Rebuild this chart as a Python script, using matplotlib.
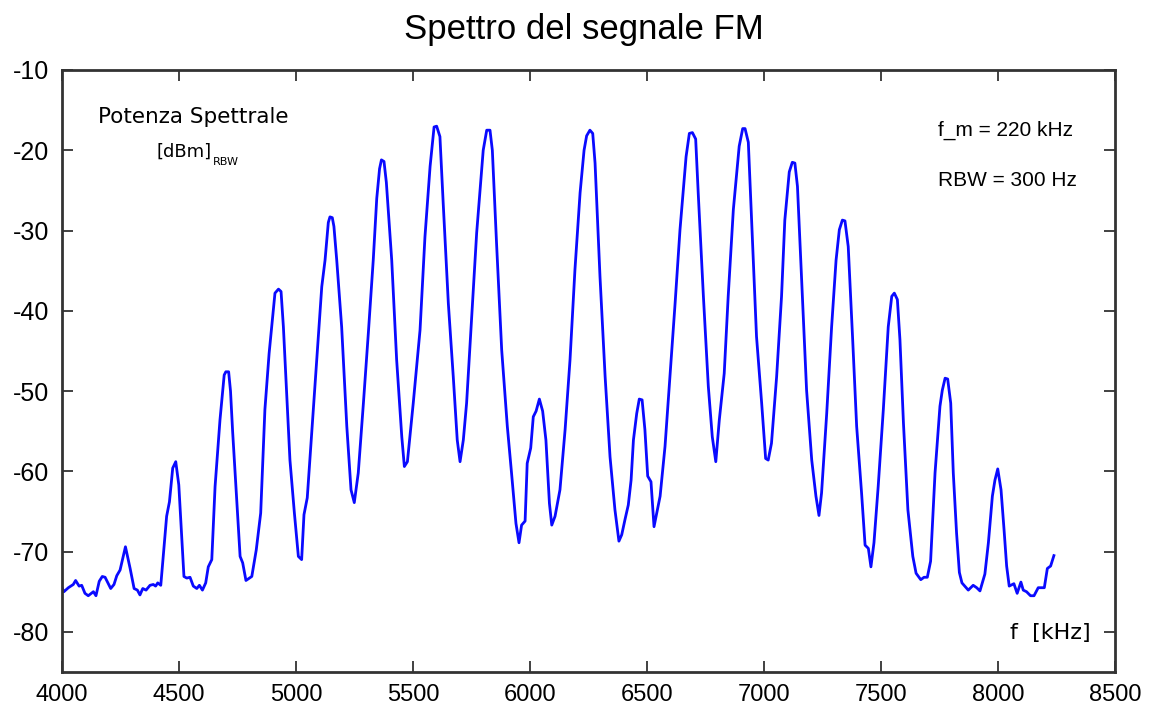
import numpy as np
import matplotlib
matplotlib.use("Agg")
import matplotlib.pyplot as plt

# spectrum trace (kHz, dBm)
freq_khz = [
    4000, 4008, 4027, 4048, 4058, 4073, 4084, 4098, 4112, 4134, 4145, 4159, 4172, 4184,
    4208, 4222, 4234, 4248, 4271, 4291, 4308, 4322, 4333, 4345, 4359, 4376, 4390, 4400,
    4409, 4422, 4447, 4459, 4473, 4486, 4499, 4521, 4533, 4547, 4561, 4576, 4587, 4600,
    4614, 4625, 4640, 4654, 4675, 4693, 4700, 4712, 4720, 4729, 4761, 4772, 4786, 4811,
    4830, 4849, 4867, 4885, 4899, 4910, 4925, 4936, 4946, 4960, 4974, 4993, 5010, 5024,
    5034, 5048, 5067, 5088, 5110, 5124, 5138, 5145, 5155, 5162, 5174, 5195, 5217, 5235,
    5249, 5266, 5288, 5309, 5330, 5345, 5357, 5365, 5376, 5386, 5409, 5430, 5452, 5463,
    5476, 5501, 5530, 5551, 5573, 5590, 5601, 5615, 5629, 5651, 5672, 5689, 5701, 5715,
    5729, 5751, 5772, 5800, 5815, 5829, 5839, 5857, 5879, 5903, 5921, 5940, 5953, 5964,
    5979, 5988, 6003, 6014, 6026, 6040, 6054, 6068, 6083, 6093, 6107, 6128, 6150, 6171,
    6192, 6214, 6231, 6242, 6256, 6268, 6278, 6299, 6321, 6342, 6363, 6380, 6392, 6406,
    6420, 6432, 6442, 6456, 6467, 6479, 6491, 6503, 6517, 6530, 6556, 6577, 6598, 6620,
    6641, 6667, 6681, 6694, 6708, 6719, 6741, 6762, 6779, 6794, 6809, 6830, 6847, 6869,
    6894, 6909, 6919, 6933, 6951, 6968, 6990, 7007, 7018, 7032, 7054, 7075, 7089, 7108,
    7121, 7132, 7143, 7161, 7182, 7204, 7222, 7235, 7246, 7268, 7289, 7308, 7322, 7335,
    7346, 7360, 7379, 7396, 7417, 7432, 7446, 7457, 7470, 7488, 7510, 7531, 7546, 7557,
    7570, 7581, 7596, 7615, 7636, 7650, 7670, 7684, 7698, 7712, 7731, 7752, 7762, 7774,
    7785, 7798, 7809, 7823, 7835, 7846, 7873, 7894, 7909, 7923, 7944, 7959, 7976, 7987,
    7999, 8013, 8026, 8037, 8048, 8068, 8082, 8098, 8108, 8122, 8139, 8154, 8172, 8198,
    8211, 8225, 8239,
]
level_dbm = [
    -74.5, -75.0, -74.5, -74.1, -73.6, -74.3, -74.2, -75.2, -75.5, -75.0, -75.5, -73.7, -73.1, -73.2,
    -74.6, -74.1, -73.0, -72.3, -69.4, -72.1, -74.6, -74.8, -75.4, -74.6, -74.8, -74.2, -74.1, -74.3,
    -73.9, -74.2, -65.6, -63.8, -59.6, -58.8, -61.7, -73.1, -73.3, -73.2, -74.3, -74.6, -74.2, -74.8,
    -73.9, -71.9, -71.0, -61.9, -53.6, -48.0, -47.6, -47.6, -50.0, -55.0, -70.6, -71.4, -73.6, -73.1,
    -69.8, -65.2, -52.3, -45.3, -41.1, -37.8, -37.3, -37.6, -42.0, -50.3, -58.6, -65.2, -70.6, -71.0,
    -65.4, -63.3, -55.2, -46.1, -37.0, -33.7, -29.0, -28.3, -28.4, -29.5, -33.7, -42.0, -54.4, -62.3,
    -63.9, -60.2, -51.5, -42.8, -33.7, -26.0, -22.3, -21.2, -21.4, -24.0, -33.7, -46.1, -55.7, -59.4,
    -58.8, -51.5, -42.4, -30.8, -22.0, -17.1, -17.0, -18.3, -26.6, -39.1, -48.2, -56.1, -58.8, -56.1,
    -51.5, -40.7, -30.3, -20.0, -17.5, -17.5, -20.0, -31.6, -44.9, -54.4, -60.2, -66.5, -68.9, -66.7,
    -66.2, -59.0, -57.1, -53.2, -52.5, -51.0, -52.5, -56.1, -64.0, -66.7, -65.6, -62.3, -54.8, -46.1,
    -34.9, -25.3, -20.0, -18.2, -17.5, -17.9, -21.6, -35.7, -48.2, -58.2, -64.8, -68.7, -67.9, -66.0,
    -64.2, -61.1, -56.1, -52.8, -51.0, -51.1, -54.8, -60.6, -61.3, -66.9, -63.1, -56.9, -48.2, -39.1,
    -29.9, -20.8, -17.9, -17.8, -18.6, -25.4, -38.2, -49.4, -55.7, -58.8, -53.6, -47.8, -38.2, -27.4,
    -19.5, -17.3, -17.3, -19.0, -31.6, -43.2, -51.5, -58.4, -58.6, -56.5, -48.2, -38.2, -28.7, -22.7,
    -21.5, -21.6, -24.5, -36.2, -49.9, -58.6, -63.1, -65.5, -62.7, -52.8, -42.0, -33.7, -29.9, -28.7,
    -28.8, -32.0, -43.6, -54.4, -62.7, -69.2, -69.6, -71.9, -68.9, -61.9, -52.3, -42.0, -38.2, -37.8,
    -38.6, -43.6, -54.0, -64.8, -70.6, -72.7, -73.5, -73.2, -73.2, -71.2, -60.2, -51.9, -49.9, -48.4,
    -48.5, -51.5, -60.2, -67.7, -72.6, -73.9, -74.8, -74.2, -74.5, -74.9, -72.8, -68.9, -63.1, -61.1,
    -59.7, -62.3, -67.3, -71.8, -74.3, -74.0, -75.2, -73.8, -74.8, -75.0, -75.5, -75.5, -74.5, -74.5,
    -72.1, -71.8, -70.5,
]

x_ticks = [4000, 4500, 5000, 5500, 6000, 6500, 7000, 7500, 8000, 8500]
y_ticks = [-80, -70, -60, -50, -40, -30, -20, -10]

plt.rcParams['font.family'] = ['Liberation Sans', 'DejaVu Sans']
plt.rcParams['axes.unicode_minus'] = False

fig = plt.figure(figsize=(11.51, 7.12), dpi=100)
ax = fig.add_axes([0.0539, 0.0562, 0.9148, 0.8455])

ax.plot(freq_khz, level_dbm, color='#0a0aff', lw=2.0)

ax.set_xlim(4000, 8500)
ax.set_ylim(-85, -10)
ax.set_xticks(x_ticks)
ax.set_yticks(y_ticks)
ax.tick_params(direction='in', length=8, width=1.3, labelsize=17,
               top=True, right=True, color='#333333')
ax.tick_params(axis='x', pad=9)
ax.tick_params(axis='y', pad=9, labelsize=18)
for sp in ax.spines.values():
    sp.set_linewidth(2)
    sp.set_color('#333333')

fig.text(0.507, 0.958, 'Spettro del segnale FM', ha='center', va='center', fontsize=25)

ax.text(0.125, 0.922, 'Potenza Spettrale', transform=ax.transAxes,
        ha='center', va='center', fontsize=15.5, family='DejaVu Sans')
ax.text(0.090, 0.865, '[dBm]', transform=ax.transAxes,
        ha='left', va='center', fontsize=13, family='DejaVu Sans')
ax.text(0.143, 0.847, 'RBW', transform=ax.transAxes,
        ha='left', va='center', fontsize=8, family='DejaVu Sans')

ax.text(0.832, 0.899, 'f_m = 220 kHz', transform=ax.transAxes,
        ha='left', va='center', fontsize=15)
ax.text(0.832, 0.816, 'RBW = 300 Hz', transform=ax.transAxes,
        ha='left', va='center', fontsize=15)

ax.text(0.900, 0.065, 'f  [kHz]', transform=ax.transAxes,
        ha='left', va='center', fontsize=16, family='DejaVu Sans')

fig.savefig('out.png', dpi=100)
